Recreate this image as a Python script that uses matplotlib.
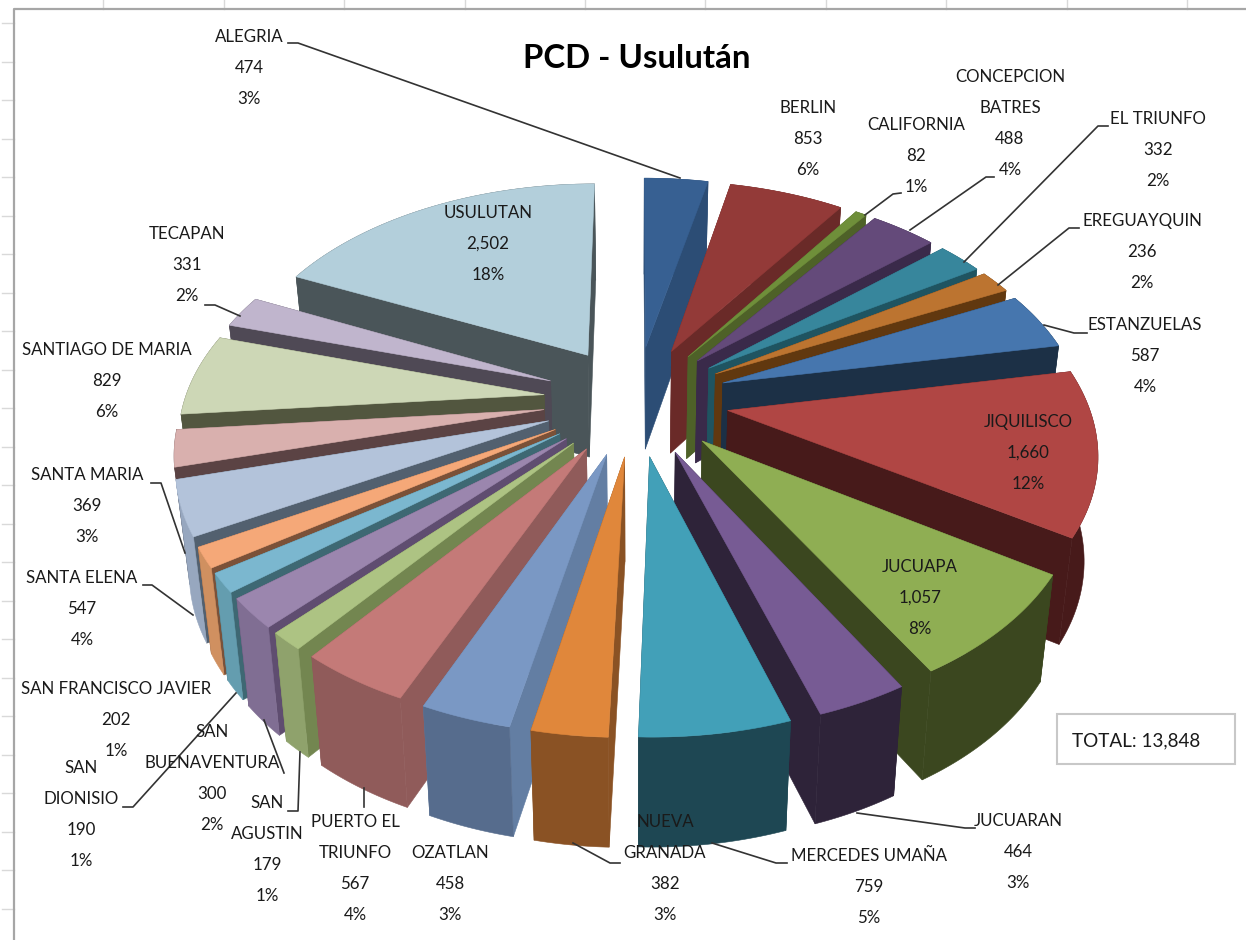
#!/bin/python3

import matplotlib
matplotlib.use("Agg")
import matplotlib.pyplot as plt
import numpy as np

plt.rcParams['font.family'] = ['Lato', 'DejaVu Sans']

# data
names = [["ALEGRIA"], ["BERLIN"], ["CALIFORNIA"], ["CONCEPCION", "BATRES"], ["EL TRIUNFO"],
         ["EREGUAYQUIN"], ["ESTANZUELAS"], ["JIQUILISCO"], ["JUCUAPA"], ["JUCUARAN"],
         ["MERCEDES UMAÑA"], ["NUEVA", "GRANADA"], ["OZATLAN"], ["PUERTO EL", "TRIUNFO"],
         ["SAN", "AGUSTIN"], ["SAN", "BUENAVENTURA"], ["SAN", "DIONISIO"],
         ["SAN FRANCISCO JAVIER"], ["SANTA ELENA"], ["SANTA MARIA"], ["SANTIAGO DE MARIA"],
         ["TECAPAN"], ["USULUTAN"]]
values = [474, 853, 82, 488, 332, 236, 587, 1660, 1057, 464, 759, 382, 458, 567,
          179, 300, 190, 202, 547, 369, 829, 331, 2502]

# colours: top face, cut faces, rim
top_colors = ['#376092', '#933a38', '#6f8f3a', '#644a7a', '#37869c', '#bc7430', '#4676ae', '#b04644',
              '#8fae53', '#775b94', '#42a0b8', '#e0873b', '#7a98c4', '#c47a78', '#adc383', '#9b86ae',
              '#7bb7cf', '#f5a878', '#b3c3da', '#d9b0ae', '#cdd7b6', '#c0b5cd', '#b3cfdb']
cut_colors = ['#2c4d75', '#6a2a28', '#4e6128', '#3a2a4a', '#1f5461', '#61380f', '#1c3046', '#471a1a',
              '#3b471f', '#2e2339', '#1e4753', '#8a5224', '#637ea3', '#905b5a', '#738650', '#5f4d70',
              '#3e6873', '#7b5138', '#52606f', '#5b4344', '#52563f', '#4f4955', '#4a5559']
rim_colors = ['#2c4d75', '#6a2a28', '#4e6128', '#3a2a4a', '#1f5461', '#61380f', '#1c3046', '#471a1a',
              '#3b471f', '#2e2339', '#1e4753', '#8a5224', '#566c8d', '#905b5a', '#8fa26c', '#806e93',
              '#649daf', '#d09060', '#97a7bf', '#5b4344', '#52563f', '#4f4955', '#4a5559']

# label centre x and y of the first line
label_pos = [(249, 37), (808, 108), (916, 125), (1010, 77), (1158, 119), (1142, 221), (1145, 325),
             (1028, 422), (920, 567), (1018, 821), (869, 856), (665, 822), (450, 853), (355, 822),
             (267, 803), (212, 732), (81, 768), (116, 689), (82, 578), (87, 475), (107, 350),
             (187, 234), (488, 213)]
line_step = 31

leaders = [[(288, 43), (298, 43), (680, 178)],
           [(901, 193), (893, 194), (865, 215)],
           [(994, 177), (986, 177), (910, 230)],
           [(1108, 126), (1098, 126), (964, 262)],
           [(1079, 228), (1069, 228), (998, 285)],
           [(1087, 333), (1074, 333), (1044, 325)],
           [(975, 828), (965, 828), (857, 813)],
           [(787, 863), (776, 863), (712, 843)],
           [(620, 863), (610, 863), (573, 843)],
           [(364, 788), (364, 807)],
           [(288, 811), (298, 811), (300, 752)],
           [(284, 773), (264, 720)],
           [(123, 807), (133, 807), (236, 693)],
           [(143, 585), (152, 585), (193, 615)],
           [(151, 483), (161, 483), (185, 553)],
           [(205, 305), (215, 305), (240, 316)]]

# pie projection, pixels
cx, cy = 636, 400
sx, sy = 452, 268
persp = 0.207
explode = 0.205
radius = 0.795


def project(X, Y, down=False):
    w = 1 / (1 - persp * Y)
    px = cx + sx * X * w
    py = cy + sy * Y * w
    if down:
        px = cx + (px - cx) * 0.97
        py = py + 103 + 7 * Y
    return px, py


fig = plt.figure(figsize=(12.46, 9.4), dpi=100)
ax = fig.add_axes([0, 0, 1, 1])
ax.set_xlim(0, 1246)
ax.set_ylim(940, 0)
ax.axis('off')

# sheet behind the chart
for x in [103, 224, 344, 465, 585, 705, 826, 946, 1067, 1187]:
    ax.plot([x, x], [0, 9], c='#d9d9d9', lw=1)
for y in np.arange(23, 940, 38.5):
    ax.plot([2, 14], [y, y], c='#d9d9d9', lw=1)
ax.plot([14, 14, 1246], [940, 9, 9], c='#a6a6a6', lw=1.6)

total = sum(values)
edges = np.cumsum([0] + values) / total * 2 * np.pi
mids = (edges[:-1] + edges[1:]) / 2


def draw_face(xs, ys, color, zorder):
    ax.fill(xs, ys, facecolor=color, edgecolor=color, lw=0.4, zorder=zorder)


# back slices first, front ones on top
order = np.argsort(-np.cos(mids))
for z, i in enumerate(order):
    tipX = explode * np.sin(mids[i])
    tipY = -explode * np.cos(mids[i])
    a = np.linspace(edges[i], edges[i + 1], 40)
    X = tipX + radius * np.sin(a)
    Y = tipY - radius * np.cos(a)

    base = 10 + z * 4
    # the two cut faces
    for j in [0, -1]:
        xt, yt = project(np.array([tipX, X[j]]), np.array([tipY, Y[j]]))
        xb, yb = project(np.array([tipX, X[j]]), np.array([tipY, Y[j]]), down=True)
        draw_face([xt[0], xt[1], xb[1], xb[0]], [yt[0], yt[1], yb[1], yb[0]], cut_colors[i], base)
    # rim
    xt, yt = project(X, Y)
    xb, yb = project(X, Y, down=True)
    draw_face(np.r_[xt, xb[::-1]], np.r_[yt, yb[::-1]], rim_colors[i], base + 1)
    # top
    xtip, ytip = project(tipX, tipY)
    draw_face(np.r_[xtip, xt], np.r_[ytip, yt], top_colors[i], base + 2)

for line in leaders:
    ax.plot([p[0] for p in line], [p[1] for p in line], c='#333333', lw=1.2, zorder=200)

for i, name in enumerate(names):
    lines = name + ["{:,}".format(values[i]), "{:.0f}%".format(100 * values[i] / total)]
    x, y = label_pos[i]
    for k, s in enumerate(lines):
        ax.text(x, y + k * line_step, s, ha='center', va='center', fontsize=12.2,
                color='#1a1a1a', zorder=300)

ax.text(637, 59, "PCD - Usulután", ha='center', va='center', fontsize=23.8, fontweight='bold',
        color='black', zorder=300)

ax.add_patch(plt.Rectangle((1057, 714), 178, 50, facecolor='white', edgecolor='#c8c8c8', lw=1.5, zorder=300))
ax.text(1072, 741, "TOTAL: {:,}".format(total), ha='left', va='center', fontsize=13.6,
        color='#1a1a1a', zorder=301)

plt.savefig("out.png", dpi=100)
